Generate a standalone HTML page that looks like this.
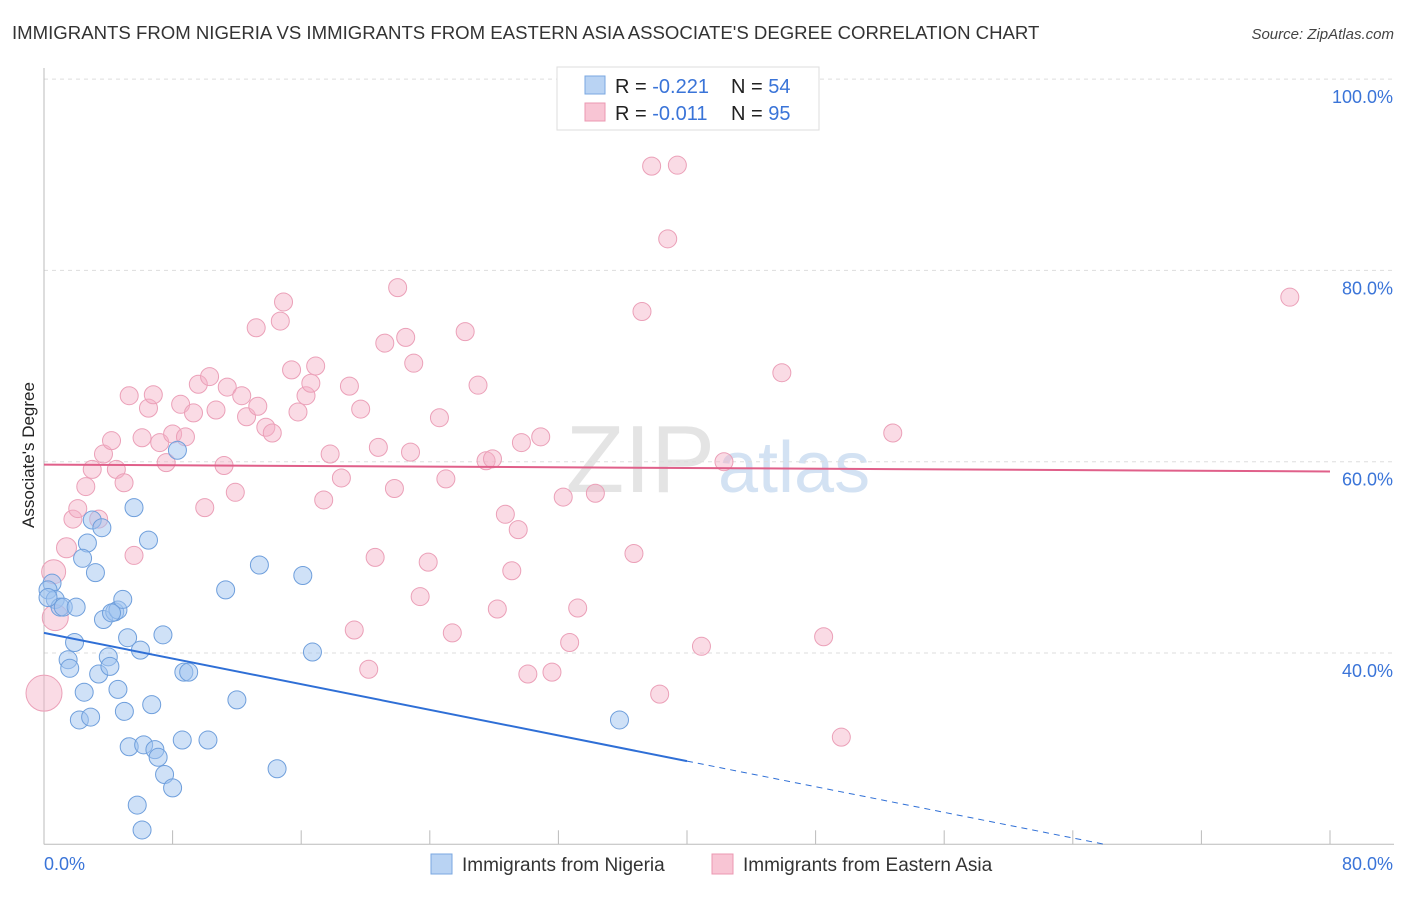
<!DOCTYPE html>
<html><head><meta charset="utf-8"><style>
body{margin:0;background:#fff;font-family:"Liberation Sans",sans-serif;}
svg text{font-family:"Liberation Sans",sans-serif;}
</style></head><body>
<svg id="chart" width="1406" height="892" xmlns="http://www.w3.org/2000/svg">
<text x="12" y="39" font-size="18.6" fill="#333">IMMIGRANTS FROM NIGERIA VS IMMIGRANTS FROM EASTERN ASIA ASSOCIATE'S DEGREE CORRELATION CHART</text>
<text x="1394" y="39" font-size="15" fill="#444" font-style="italic" text-anchor="end">Source: ZipAtlas.com</text>
<text x="715" y="492" font-size="96" fill="#e4e4e4" text-anchor="end" font-family="Liberation Serif">ZIP</text>
<text x="718" y="492" font-size="72" fill="#d3e2f3">atlas</text>
<g id="grid"></g><g id="marks"></g><g id="trends"></g>
<text x="34" y="455" font-size="17" fill="#222" text-anchor="middle" transform="rotate(-90 34 455)">Associate's Degree</text>
<g>
<rect x="557" y="67" width="262" height="63" fill="#fff" stroke="#ddd"/>
<rect x="585" y="76" width="20" height="18" fill="#b9d3f3" stroke="#7aa7e0"/>
<rect x="585" y="103" width="20" height="18" fill="#f8c5d4" stroke="#eb98b2"/>
<text x="615" y="93" font-size="20" fill="#222">R = <tspan fill="#3a74d8">-0.221</tspan></text>
<text x="731" y="93" font-size="20" fill="#222">N = <tspan fill="#3a74d8">54</tspan></text>
<text x="615" y="120" font-size="20" fill="#222">R = <tspan fill="#3a74d8">-0.011</tspan></text>
<text x="731" y="120" font-size="20" fill="#222">N = <tspan fill="#3a74d8">95</tspan></text>
</g>
<g>
<rect x="431" y="854" width="21" height="20" fill="#b9d3f3" stroke="#7aa7e0"/>
<text x="462" y="871" font-size="19" fill="#333">Immigrants from Nigeria</text>
<rect x="712" y="854" width="21" height="20" fill="#f8c5d4" stroke="#eb98b2"/>
<text x="743" y="871" font-size="19" fill="#333">Immigrants from Eastern Asia</text>
</g>
</svg>
<script>
const yTicks=[40,60,80,100];
const yTickLabels=["40.0%","60.0%","80.0%","100.0%"];
const xTicks=[0,8,16,24,32,40,48,56,64,72,80];
const nigeriaX=[0.5,0.25,0.7,1.0,1.2,2.0,1.5,1.6,1.9,2.2,2.5,2.9,2.7,2.4,3.2,3.0,3.6,3.4,4.0,4.1,3.7,4.4,4.6,4.9,4.6,5.0,5.2,5.3,6.0,6.2,6.7,6.5,6.9,7.1,7.5,8.0,5.8,6.1,7.4,5.6,8.3,8.7,9.0,8.6,10.2,11.3,12.0,13.4,14.5,16.1,16.7,35.8,0.25,4.2];
const nigeriaY=[47.3,46.6,45.6,44.8,44.8,44.8,39.3,38.4,41.1,33.0,35.9,33.3,51.5,49.9,48.4,53.9,53.1,37.8,39.6,38.6,43.5,44.3,44.5,45.6,36.2,33.9,41.6,30.2,40.3,30.4,34.6,51.8,29.9,29.1,27.3,25.9,24.1,21.5,41.9,55.2,61.2,38.0,38.0,30.9,30.9,46.6,35.1,49.2,27.9,48.1,40.1,33.0,45.8,44.2];
const asiaX=[0,0.6,0.7,1.4,1.8,2.1,2.6,3.0,3.4,3.7,4.2,4.5,4.98,5.3,5.6,6.1,6.5,6.8,7.2,7.6,8.0,8.5,8.8,9.3,9.6,10.0,10.3,10.7,11.2,11.4,11.9,12.3,12.6,13.3,13.2,13.8,14.2,14.7,14.9,15.4,15.8,16.3,16.6,16.9,17.4,17.8,18.5,19.0,19.3,19.7,20.2,20.6,20.8,21.2,21.8,22.0,22.5,22.8,23.0,23.4,23.9,24.6,25.0,25.4,26.2,27.0,27.5,27.9,28.2,28.7,29.1,29.5,29.7,30.1,30.9,31.6,32.3,32.7,33.2,34.3,36.7,37.2,37.8,38.3,38.8,39.4,40.9,42.3,45.9,48.5,49.6,52.8,77.5];
const asiaY=[35.8,48.5,43.7,51.0,54.0,55.1,57.4,59.2,54.0,60.8,62.2,59.2,57.8,66.9,50.2,62.5,65.6,67.0,62.0,59.9,62.9,66.0,62.6,65.1,68.1,55.2,68.9,65.4,59.6,67.8,56.8,66.9,64.7,65.8,74.0,63.6,63.0,74.7,76.7,69.6,65.2,66.9,68.2,70.0,56.0,60.8,58.3,67.9,42.4,65.5,38.3,50.0,61.5,72.4,57.2,78.2,73.0,61.0,70.3,45.9,49.5,64.6,58.2,42.1,73.6,68.0,60.1,60.3,44.6,54.5,48.6,52.9,62.0,37.8,62.6,38.0,56.3,41.1,44.7,56.7,50.4,75.7,90.9,35.7,83.3,91.0,40.7,60.0,69.3,41.7,31.2,63.0,77.2];
const nigeriaTrend=[42.1,-0.335];
const asiaTrend=[59.7,-0.009];
const X=v=>44+v/80*1286;
const Y=v=>653-(v-40)/20*191.3;
const NS="http://www.w3.org/2000/svg";
function mk(t,a,p){const e=document.createElementNS(NS,t);for(const k in a)e.setAttribute(k,a[k]);p.appendChild(e);return e;}
const grid=document.getElementById('grid'),marks=document.getElementById('marks'),trends=document.getElementById('trends'),svg=document.getElementById('chart');
yTicks.forEach((t,i)=>{
 const l=mk('line',{x1:44,x2:1394,y1:Y(t),y2:Y(t),stroke:'#ddd','stroke-dasharray':'4 4'},grid);
 
 
 const tx=mk('text',{x:1393,y:Y(t)+24,'font-size':18,fill:'#3a74d8','text-anchor':'end'},svg);
 tx.textContent=yTickLabels[i];
 
 
});
const ax=mk('line',{x1:44,x2:44,y1:68,y2:Y(20),stroke:'#bbb'},grid);


const bx=mk('line',{x1:44,x2:1394,y1:Y(20),y2:Y(20),stroke:'#bbb'},grid);


xTicks.forEach(t=>{const l=mk('line',{x1:X(t),x2:X(t),y1:Y(20),y2:Y(20)-14,stroke:'#bbb'},grid);
 
 });
[["0.0%",44,'start'],["80.0%",1393,'end']].forEach(a=>{const t=mk('text',{x:a[1],y:870,'font-size':18,fill:'#3a74d8','text-anchor':a[2]},svg);t.textContent=a[0];
 
 });
asiaX.forEach((v,i)=>{const r=i==0?18:i==2?13:i==1?12:i==3?10:9;
 const c=mk('circle',{cx:X(v),cy:Y(asiaY[i]),r:r,fill:'rgba(245,175,198,0.45)',stroke:'#eba0b8','stroke-width':1},marks);
 
 });
nigeriaX.forEach((v,i)=>{
 const c=mk('circle',{cx:X(v),cy:Y(nigeriaY[i]),r:9,fill:'rgba(160,195,240,0.5)',stroke:'#6f9fdc','stroke-width':1},marks);
 
 });
const ny=x=>nigeriaTrend[0]+nigeriaTrend[1]*x;
const xEnd=(20-nigeriaTrend[0])/nigeriaTrend[1];
let l1=mk('line',{x1:X(0),y1:Y(ny(0)),x2:X(40),y2:Y(ny(40)),stroke:'#2f6fd6','stroke-width':2},trends);


let l2=mk('line',{x1:X(40),y1:Y(ny(40)),x2:X(xEnd),y2:Y(20),stroke:'#2f6fd6','stroke-width':1,'stroke-dasharray':'6 5'},trends);


const ay=x=>asiaTrend[0]+asiaTrend[1]*x;
let l3=mk('line',{x1:X(0),y1:Y(ay(0)),x2:X(80),y2:Y(ay(80)),stroke:'#e0608a','stroke-width':2},trends);


</script>
</body></html>
